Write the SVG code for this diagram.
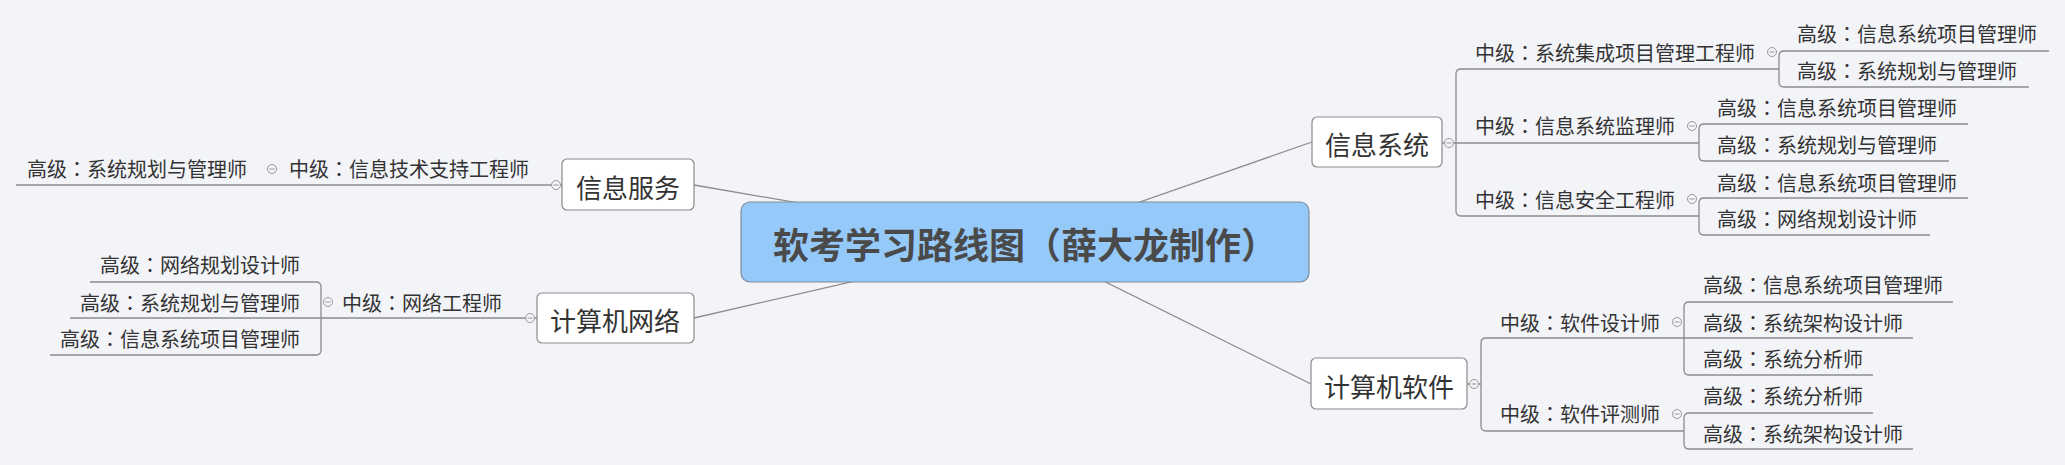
<svg xmlns="http://www.w3.org/2000/svg" width="2065" height="465" viewBox="0 0 2065 465">
<style>
  .bg{fill:#F2F4F8}
  .ln{fill:none;stroke:#8C8C8C;stroke-width:1.3}
  .box{fill:#FFFFFF;stroke:#8A8A8A;stroke-width:1.2}
  .root{fill:#95C9F9;stroke:#7F8D9A;stroke-width:1.2}
  .t{font-family:"Noto Sans CJK SC","Microsoft YaHei",sans-serif;font-size:20px;fill:#333333;dominant-baseline:central}
  .tm{font-family:"Noto Sans CJK SC","Microsoft YaHei",sans-serif;font-size:26px;fill:#333333;dominant-baseline:central;text-anchor:middle}
  .tr{font-family:"Noto Sans CJK SC","Microsoft YaHei",sans-serif;font-size:36px;font-weight:bold;fill:#4A4A4A;dominant-baseline:central;text-anchor:middle}
  .p{font-family:"Noto Sans CJK TC","Noto Sans CJK SC",sans-serif}
  .e{text-anchor:end}
  .c{fill:#F2F4F8;stroke:#9A9A9A;stroke-width:1}
  .cm{stroke:#9A9A9A;stroke-width:1}
</style>
<defs>
  <g id="col"><circle class="c" r="4.5"/><line class="cm" x1="-2.5" y1="0" x2="2.5" y2="0"/></g>
</defs>
<rect class="bg" x="0" y="0" width="2065" height="465"/>

<g id="connectors">
  <path class="ln" d="M1025,242 L694,185"/>
  <path class="ln" d="M1025,242 L694,318"/>
  <path class="ln" d="M1025,242 L1312,142"/>
  <path class="ln" d="M1025,242 L1311,384"/>
  <path class="ln" d="M16,185 H551.5 M560.5,185 H562"/>
  <path class="ln" d="M70,318 H525.5 M534.5,318 H537"/>
  <path class="ln" d="M90,282 H316 Q321,282 321,287 V350 Q321,355 316,355 H50"/>
  <path class="ln" d="M1442,143 H1444.5 M1453.5,143 H1699"/>
  <path class="ln" d="M1779,69 H1461 Q1456,69 1456,74 V211 Q1456,216 1461,216 H1699"/>
  <path class="ln" d="M2049,51 H1784 Q1779,51 1779,56 V82 Q1779,87 1784,87 H2029"/>
  <path class="ln" d="M1968,124 H1704 Q1699,124 1699,129 V156 Q1699,161 1704,161 H1949"/>
  <path class="ln" d="M1968,198 H1704 Q1699,198 1699,203 V230 Q1699,235 1704,235 H1930"/>
  <path class="ln" d="M1467,384 H1469.5 M1478.5,384 H1481"/>
  <path class="ln" d="M1684,338 H1486 Q1481,338 1481,343 V426 Q1481,431 1486,431 H1684"/>
  <path class="ln" d="M1684,338 H1913"/>
  <path class="ln" d="M1953,302 H1689 Q1684,302 1684,307 V370 Q1684,375 1689,375 H1873"/>
  <path class="ln" d="M1873,413 H1689 Q1684,413 1684,418 V444 Q1684,449 1689,449 H1913"/>
</g>

<g id="root">
  <rect class="root" x="741" y="202" width="568" height="80" rx="9"/>
  <text class="tr" x="1025" y="243">软考学习路线图<tspan class="p">（</tspan>薛大龙制作<tspan class="p">）</tspan></text>
</g>

<g id="n-xxfw">
  <rect class="box" x="562" y="159" width="132" height="51" rx="5"/>
  <text class="tm" x="628" y="186">信息服务</text>
  <use href="#col" x="556" y="185"/>
</g>
<g id="n-xxfw-mid">
  <text class="t" x="289" y="168">中级<tspan class="p">：</tspan>信息技术支持工程师</text>
  <use href="#col" x="272" y="169"/>
</g>
<g id="n-xxfw-high">
  <text class="t e" x="247" y="168">高级<tspan class="p">：</tspan>系统规划与管理师</text>
</g>

<g id="n-jsjwl">
  <rect class="box" x="537" y="293" width="157" height="50" rx="5"/>
  <text class="tm" x="615" y="319">计算机网络</text>
  <use href="#col" x="530" y="318"/>
</g>
<g id="n-wlgcs">
  <text class="t" x="342" y="302">中级<tspan class="p">：</tspan>网络工程师</text>
  <use href="#col" x="328" y="302"/>
</g>
<g id="n-wl-h1"><text class="t e" x="300" y="264">高级<tspan class="p">：</tspan>网络规划设计师</text></g>
<g id="n-wl-h2"><text class="t e" x="300" y="302">高级<tspan class="p">：</tspan>系统规划与管理师</text></g>
<g id="n-wl-h3"><text class="t e" x="300" y="338">高级<tspan class="p">：</tspan>信息系统项目管理师</text></g>

<g id="n-xxxt">
  <rect class="box" x="1312" y="117" width="130" height="50" rx="5"/>
  <text class="tm" x="1377" y="143">信息系统</text>
  <use href="#col" x="1449" y="143"/>
</g>
<g id="n-xtjc">
  <text class="t" x="1475" y="52">中级<tspan class="p">：</tspan>系统集成项目管理工程师</text>
  <use href="#col" x="1772" y="52"/>
</g>
<g id="n-xtjc-h1"><text class="t" x="1797" y="33">高级<tspan class="p">：</tspan>信息系统项目管理师</text></g>
<g id="n-xtjc-h2"><text class="t" x="1797" y="70">高级<tspan class="p">：</tspan>系统规划与管理师</text></g>
<g id="n-xtjl">
  <text class="t" x="1475" y="125">中级<tspan class="p">：</tspan>信息系统监理师</text>
  <use href="#col" x="1692" y="126"/>
</g>
<g id="n-xtjl-h1"><text class="t" x="1717" y="107">高级<tspan class="p">：</tspan>信息系统项目管理师</text></g>
<g id="n-xtjl-h2"><text class="t" x="1717" y="144">高级<tspan class="p">：</tspan>系统规划与管理师</text></g>
<g id="n-xxaq">
  <text class="t" x="1475" y="199">中级<tspan class="p">：</tspan>信息安全工程师</text>
  <use href="#col" x="1692" y="199"/>
</g>
<g id="n-xxaq-h1"><text class="t" x="1717" y="182">高级<tspan class="p">：</tspan>信息系统项目管理师</text></g>
<g id="n-xxaq-h2"><text class="t" x="1717" y="218">高级<tspan class="p">：</tspan>网络规划设计师</text></g>

<g id="n-jsjrj">
  <rect class="box" x="1311" y="358" width="156" height="51" rx="5"/>
  <text class="tm" x="1389" y="385">计算机软件</text>
  <use href="#col" x="1474" y="384"/>
</g>
<g id="n-rjsjs">
  <text class="t" x="1500" y="322">中级<tspan class="p">：</tspan>软件设计师</text>
  <use href="#col" x="1677" y="322"/>
</g>
<g id="n-rjsjs-h1"><text class="t" x="1703" y="284">高级<tspan class="p">：</tspan>信息系统项目管理师</text></g>
<g id="n-rjsjs-h2"><text class="t" x="1703" y="322">高级<tspan class="p">：</tspan>系统架构设计师</text></g>
<g id="n-rjsjs-h3"><text class="t" x="1703" y="358">高级<tspan class="p">：</tspan>系统分析师</text></g>
<g id="n-rjpcs">
  <text class="t" x="1500" y="413">中级<tspan class="p">：</tspan>软件评测师</text>
  <use href="#col" x="1677" y="414"/>
</g>
<g id="n-rjpcs-h1"><text class="t" x="1703" y="395">高级<tspan class="p">：</tspan>系统分析师</text></g>
<g id="n-rjpcs-h2"><text class="t" x="1703" y="433">高级<tspan class="p">：</tspan>系统架构设计师</text></g>
</svg>
